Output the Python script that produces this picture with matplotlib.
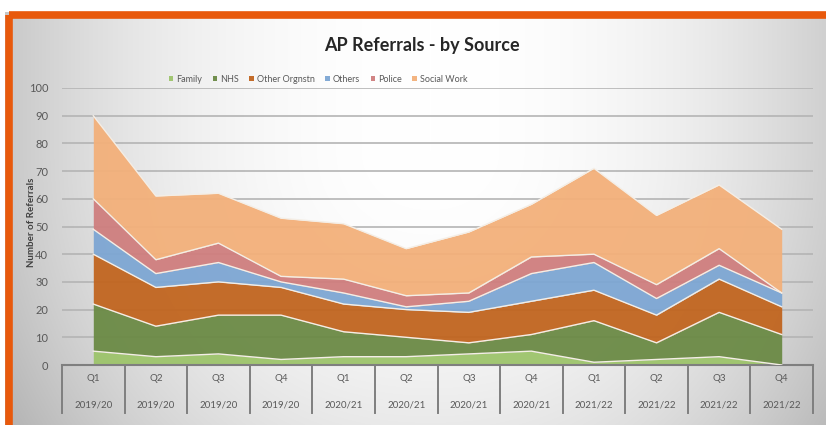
import matplotlib.pyplot as plt
import numpy as np
from matplotlib.patches import Rectangle

quarters = ["Q1", "Q2", "Q3", "Q4"] * 3
years = ["2019/20"] * 4 + ["2020/21"] * 4 + ["2021/22"] * 4

family = [5, 3, 4, 2, 3, 3, 4, 5, 1, 2, 3, 0]
nhs = [17, 11, 14, 16, 9, 7, 4, 6, 15, 6, 16, 11]
other_org = [18, 14, 12, 10, 10, 10, 11, 12, 11, 10, 12, 10]
others = [9, 5, 7, 2, 4, 1, 4, 10, 10, 6, 5, 5]
police = [11, 5, 7, 2, 5, 4, 3, 6, 3, 5, 6, 0]
social_work = [30, 23, 18, 21, 20, 17, 22, 19, 31, 25, 23, 23]

series = ["Family", "NHS", "Other Orgnstn", "Others", "Police", "Social Work"]
colors = ["#9dc46b", "#6b8a45", "#c1651f", "#7da6d3", "#cf7e7e", "#f3b07a"]

plt.rcParams['font.family'] = ['Lato', 'DejaVu Sans']

W, H = 826, 425
fig = plt.figure(figsize=(W / 100, H / 100), dpi=100)

# background gradient (light centre, grey edges)
bg = fig.add_axes([0, 0, 1, 1], zorder=-2)
xx, yy = np.meshgrid(np.arange(W), np.arange(H))
u = (xx - 430) / 420.0
v = (yy - 150) / 300.0
val = 1 - 0.21 * (np.abs(u) ** 2.2) - 0.1 * (np.clip(v, 0, None) ** 2)
val = np.clip(val, 0, 1)
img = np.dstack([val, val, val])
img[:12, :, :] = 1
img[:, :5, :] = 1
bg.imshow(img, extent=[0, W, H, 0], aspect="auto", interpolation="bilinear")
bg.set_xlim(0, W)
bg.set_ylim(H, 0)
bg.axis("off")
bg.add_patch(Rectangle((8.5, 14.5), W + 20, H + 20, fill=False,
                       edgecolor="#e8590c", linewidth=5.5))

ax = fig.add_axes([62 / W, (H - 365) / H, (813 - 62) / W, (365 - 88) / H])
ax.patch.set_alpha(0)

x = np.arange(len(quarters))
data = [family, nhs, other_org, others, police, social_work]
base = np.zeros(len(x))
for vals, c, name in zip(data, colors, series):
    top = base + np.array(vals)
    ax.fill_between(x, base, top, color=c, alpha=0.95, linewidth=0, label=name, zorder=2)
    ax.plot(x, top, color="#f4eee6", linewidth=1.0, zorder=3)
    base = top

ax.set_xlim(-0.5, 11.5)
ax.set_ylim(0, 100)
ax.set_yticks(np.arange(0, 101, 10))
ax.tick_params(axis="y", length=0, labelsize=8, labelcolor="#595959", pad=10)
for yv in range(10, 101, 10):
    ax.axhline(yv, color="#b4b4b4", linewidth=1.2, zorder=1)
for s in ["top", "right", "left"]:
    ax.spines[s].set_visible(False)
ax.spines["bottom"].set_color("#7f7f7f")
ax.spines["bottom"].set_linewidth(1.5)
ax.set_xticks([])

# multi-level category axis
trans = ax.get_xaxis_transform()
box_bottom = -(413 - 365) / 277
for b in np.arange(-0.5, 12, 1):
    ax.plot([b, b], [0, box_bottom], color="#7f7f7f", linewidth=1.4,
            transform=trans, clip_on=False)
for i in x:
    ax.text(i, -0.047, quarters[i], transform=trans, ha="center", va="center",
            fontsize=7, color="#595959")
    ax.text(i, -0.144, years[i], transform=trans, ha="center", va="center",
            fontsize=7, color="#595959")

fig.text(31 / W, 1 - 222 / H, "Number of Referrals", rotation=90, ha="center",
         va="center", fontsize=7, fontweight="bold", color="#404040")

fig.text(422 / W, 1 - 45 / H, "AP Referrals - by Source", ha="center", va="center",
         fontsize=13, fontweight="bold", color="#262626")

handles, labels = ax.get_legend_handles_labels()
fig.legend(handles, labels, loc="center", bbox_to_anchor=(318 / W, 1 - 79 / H),
           ncol=6, frameon=False, fontsize=6.5, handlelength=0.5, handleheight=0.5,
           handletextpad=0.3, columnspacing=1.2, labelcolor="#595959")

fig.savefig("out.png", dpi=100)
